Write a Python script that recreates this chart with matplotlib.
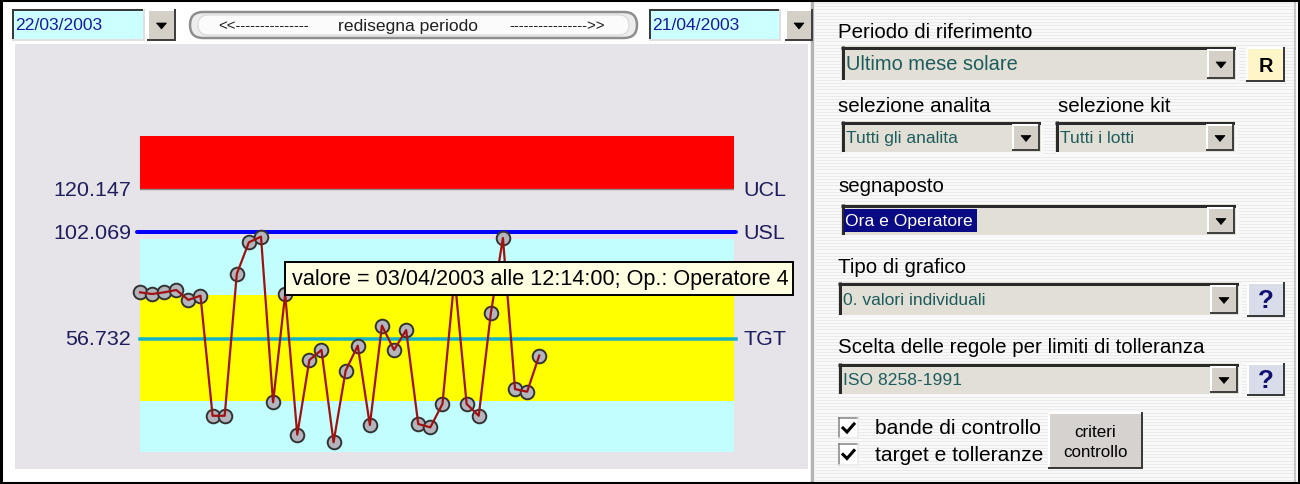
import numpy as np
import matplotlib
matplotlib.use("Agg")
import matplotlib.pyplot as plt
from matplotlib.patches import Rectangle, FancyBboxPatch, Polygon

# ---------------- data ----------------
start_date = "22/03/2003"
end_date = "21/04/2003"
UCL = 120.147
USL = 102.069
TGT = 56.732
limit_names = ["UCL", "USL", "TGT"]
limit_values = [UCL, USL, TGT]
red_band = (120.147, 142.75)
outer_band = (8.85, 98.9)
inner_band = (30.46, 75.38)
n_slots = 49.1
values = [76.5, 75.8, 76.5, 77.5, 73.3, 75.1, 24.2, 24.2, 84.3, 97.7,
          100.1, 29.9, 75.8, 16.2, 47.8, 52.1, 13.0, 43.3, 53.9, 20.3,
          62.4, 52.1, 60.5, 20.7, 19.3, 29.2, 83.0, 29.2, 24.2, 67.6,
          99.5, 35.5, 34.4, 49.7]
tooltip_text = "valore = 03/04/2003 alle 12:14:00; Op.: Operatore 4"
redraw_label = "redisegna periodo"

# ---------------- figure ----------------
W, H = 1300, 485
FONT = "Liberation Sans"
fig = plt.figure(figsize=(W / 100, H / 100), dpi=100)
fig.patch.set_facecolor("white")

ui = fig.add_axes([0, 0, 1, 1], zorder=0)
ui.set_xlim(0, W)
ui.set_ylim(H, 0)
ui.axis("off")


def T(x, y, s, px, color="black", ha="left", va="center", weight="normal", ax=None, z=5):
    (ax or ui).text(x, y, s, fontsize=px * 0.72, color=color, ha=ha, va=va,
                    fontweight=weight, family=FONT, zorder=z)


def rect(x0, y0, x1, y1, fc, ec="none", lw=0, z=1, ax=None):
    (ax or ui).add_patch(Rectangle((x0, y0), x1 - x0, y1 - y0, fc=fc, ec=ec,
                                   lw=lw, zorder=z))


def bevel(x0, y0, x1, y1, tl, br, w=2, z=2):
    k = dict(lw=w * 0.72, solid_capstyle="butt", zorder=z)
    ui.plot([x0, x1], [y0 + w / 2, y0 + w / 2], color=tl, **k)
    ui.plot([x0 + w / 2, x0 + w / 2], [y0, y1], color=tl, **k)
    ui.plot([x0, x1], [y1 - w / 2, y1 - w / 2], color=br, **k)
    ui.plot([x1 - w / 2, x1 - w / 2], [y0, y1], color=br, **k)


def dropbtn(x0, y0, x1, y1):
    rect(x0, y0, x1, y1, "#D4D0C8", z=3)
    bevel(x0, y0, x1, y1, "#FFFFFF", "#404040", w=2, z=4)
    cx, cy = (x0 + x1) / 2, (y0 + y1) / 2 + 1
    ui.add_patch(Polygon([[cx - 5, cy - 3], [cx + 5, cy - 3], [cx, cy + 3]],
                         closed=True, fc="black", ec="black", lw=0.5, zorder=5))


def combo(x0, y0, x1, y1, text, px, color="#1E5C5C", sel=False, bw=28):
    rect(x0, y0, x1, y1, "#E2DFD7", z=1)
    bevel(x0, y0, x1, y1, "#2A2A2A", "#F8F8F8", w=3, z=2)
    dropbtn(x1 - bw - 3, y0 + 3, x1 - 3, y1 - 3)
    if sel:
        rect(x0 + 3, y0 + 5, x0 + 136, y1 - 5, "#0A0A84", z=3)
        T(x0 + 4, (y0 + y1) / 2, text, px, color="white")
    else:
        T(x0 + 5, (y0 + y1) / 2, text, px, color=color)


def raised(x0, y0, x1, y1, fc):
    rect(x0, y0, x1, y1, fc, z=1)
    bevel(x0, y0, x1, y1, "#FFFFFF", "#3A3A3A", w=2, z=2)


# background regions
rect(15, 45, 808, 470, "#E6E3E9", z=0)
# right panel striped background
rect(815, 2, 1296, 483, "#FAFAFA", z=0)
ui.hlines(np.arange(4, 483, 3.2), 815, 1296, color="#EAEAEA", lw=0.8, zorder=0.5)
ui.plot([812, 812], [0, H], color="#B4B4B4", lw=2.5, zorder=1)
ui.plot([1295, 1295], [0, H], color="#C8C8C8", lw=1.5, zorder=1)

# ---------------- top bar ----------------
for (x0, x1, txt, b0, b1) in [(12, 145, start_date, 147, 176), (649, 781, end_date, 785, 813)]:
    rect(x0, 10, x1, 42, "#CCFFFF", z=1)
    bevel(x0, 10, x1, 42, "#3A3A3A", "#E0E0E0", w=2, z=2)
    T(x0 + 3, 26, txt, 17.5, color="#1A1AA0")
    dropbtn(b0, 10, b1, 42)

ui.add_patch(FancyBboxPatch((190, 13), 447, 26, boxstyle="round,pad=0,rounding_size=13",
                            fc="#EDEDED", ec="#8E8E8E", lw=1.8, zorder=1))
ui.add_patch(FancyBboxPatch((198, 16), 431, 20, boxstyle="round,pad=0,rounding_size=10",
                            fc="#FBFBFB", ec="#D8D8D8", lw=0.8, zorder=1.5))
T(264, 26, "<<---------------", 15, ha="center", color="#202020")
T(408, 26, redraw_label, 17.5, ha="center", color="#202020")
T(557, 26, "---------------->>", 15, ha="center", color="#202020")

# ---------------- chart ----------------
ax = fig.add_axes([140 / W, 1 - 453 / H, (734 - 140) / W, (453 - 137) / H], zorder=1)
ax.set_xlim(0, n_slots)
ax.set_ylim(outer_band[0], red_band[1])
ax.axis("off")
ax.patch.set_alpha(0)

ax.axhspan(*red_band, color="#FF0000", lw=0, zorder=1)
ax.axhline(red_band[0], color="#8A8A8A", lw=1.0, zorder=1.5)
ax.axhspan(*outer_band, color="#C2FEFE", lw=0, zorder=1)
ax.axhspan(*inner_band, color="#FFFF00", lw=0, zorder=1.2)
ax.plot([-0.25, n_slots + 0.2], [USL, USL], color="#0000FF", lw=4 * 0.72,
        clip_on=False, zorder=2, solid_capstyle="round")
ax.plot([0, n_slots + 0.2], [TGT, TGT], color="#12B2C6", lw=3.5 * 0.72,
        clip_on=False, zorder=2)

for name, v in zip(limit_names, limit_values):
    ax.annotate(f"{v:.3f}", xy=(0, v), xytext=(-6.5, 0), textcoords="offset points",
                ha="right", va="center", fontsize=21.5 * 0.72, color="#1E1E5C",
                family=FONT, annotation_clip=False)
    ax.annotate(name, xy=(n_slots, v), xytext=(6.5, 0), textcoords="offset points",
                ha="left", va="center", fontsize=21.5 * 0.72, color="#1E1E5C",
                family=FONT, annotation_clip=False)

xs = np.arange(len(values))
ax.plot(xs, values, "o", ms=9.8, mfc="#B4B4BC", mec="#333333", mew=1.4,
        clip_on=False, zorder=3)
ax.plot(xs, values, "-", color="#A01212", lw=1.6, clip_on=False, zorder=4)

# tooltip overlay
top = fig.add_axes([0, 0, 1, 1], zorder=3)
top.set_xlim(0, W)
top.set_ylim(H, 0)
top.axis("off")
top.patch.set_alpha(0)
top.add_patch(Rectangle((285, 263), 508, 33, fc="#FFFFE1", ec="black", lw=1.4, zorder=1))
T(292, 280, tooltip_text, 21.6, color="black", ax=top)

# ---------------- right panel ----------------
T(838, 32, "Periodo di riferimento", 20.5)
combo(841, 47, 1238, 83, "Ultimo mese solare", 20)
raised(1246, 48, 1285, 83, "#FFF5C8")
T(1265.5, 66, "R", 20, ha="center", weight="bold")

T(838, 107, "selezione analita", 20.5)
T(1058, 107, "selezione kit", 20.5)
combo(841, 122, 1043, 155, "Tutti gli analita", 17.5)
combo(1055, 122, 1237, 155, "Tutti i lotti", 17.5)

T(838, 187, "segnaposto", 20.5)
combo(841, 205, 1238, 238, "Ora e Operatore", 17.5, sel=True)

T(838, 268, "Tipo di grafico", 20.5)
combo(838, 283, 1241, 318, "0. valori individuali", 17.5)
raised(1247, 283, 1285, 318, "#D9DDEA")
T(1266, 301, "?", 26, ha="center", weight="bold", color="#10106E")

T(838, 348, "Scelta delle regole per limiti di tolleranza", 20.5)
combo(838, 364, 1241, 397, "ISO 8258-1991", 17.5)
raised(1247, 364, 1285, 397, "#D9DDEA")
T(1266, 381, "?", 26, ha="center", weight="bold", color="#10106E")

for (y0, y1, lab) in [(418, 440, "bande di controllo"), (444, 467, "target e tolleranze")]:
    rect(838, y0, 859, y1, "white", z=1)
    bevel(838, y0, 859, y1, "#808080", "#E8E8E8", w=1.5, z=2)
    cy = (y0 + y1) / 2
    ui.plot([843, 847, 854], [cy, cy + 4, cy - 4], color="black", lw=2.2, zorder=3,
            solid_joinstyle="miter")
    T(875, cy, lab, 21)

raised(1048, 413, 1143, 470, "#D6D2D0")
T(1095, 433, "criteri", 17, ha="center")
T(1095, 453, "controllo", 17, ha="center")

# outer frame
ui.add_patch(Rectangle((1, 1), W - 2, H - 2, fc="none", ec="black", lw=2.2, zorder=10))

fig.savefig("out.png", dpi=100)
